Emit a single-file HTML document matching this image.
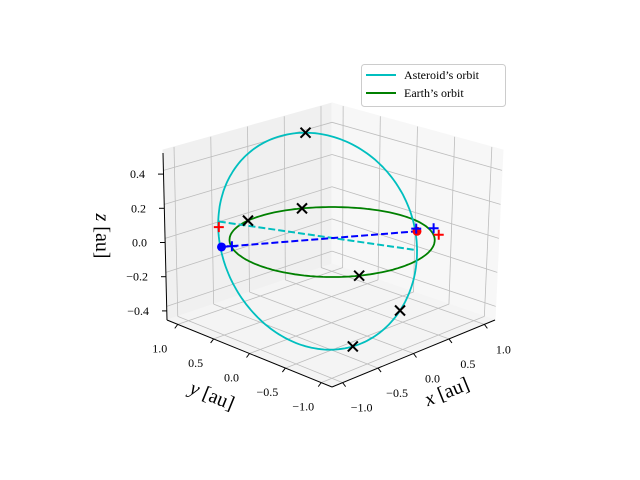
<!DOCTYPE html>
<html><head><meta charset="utf-8"><style>
html,body{margin:0;padding:0;background:#fff}
svg{display:block}
text{font-family:"Liberation Serif",serif;fill:#000}
</style></head><body>
<svg id="chart" width="640" height="480" viewBox="0 0 640 480" xmlns="http://www.w3.org/2000/svg">
<g id="panes"></g>
<g id="grid"></g>
<g id="axes"></g>
<g id="series"></g>
<text x="447" y="398" font-size="20" text-anchor="middle" transform="rotate(-22 447 392)"><tspan font-style="italic">x</tspan> [au]</text>
<text x="212" y="402" font-size="20" text-anchor="middle" transform="rotate(22 212 396)"><tspan font-style="italic">y</tspan> [au]</text>
<text x="102" y="242" font-size="20" text-anchor="middle" transform="rotate(90 102 236)"><tspan font-style="italic">z</tspan> [au]</text>
<g>
<rect x="361.5" y="64.5" width="144" height="42" rx="3" fill="#fff" fill-opacity="0.8" stroke="#ccc"/>
<line x1="366" y1="75" x2="396" y2="75" stroke="#00bfbf" stroke-width="2"/>
<text x="404" y="79" font-size="12">Asteroid’s orbit</text>
<line x1="366" y1="93" x2="396" y2="93" stroke="#008000" stroke-width="2"/>
<text x="404" y="97" font-size="12">Earth’s orbit</text>
</g>
</svg>
<script>
// axis limits
const xLim = [-1.15, 1.15];
const yLim = [-1.15, 1.15];
const zLim = [-0.48, 0.52];
const xTicks = [-1.0, -0.5, 0.0, 0.5, 1.0];
const yTicks = [-1.0, -0.5, 0.0, 0.5, 1.0];
const zTicks = [-0.4, -0.2, 0.0, 0.2, 0.4];
const xTickLabels = ["\u22121.0", "\u22120.5", "0.0", "0.5", "1.0"];
const yTickLabels = ["\u22121.0", "\u22120.5", "0.0", "0.5", "1.0"];
const zTickLabels = ["\u22120.4", "\u22120.2", "0.0", "0.2", "0.4"];
// Earth orbit: circle radius
const earthRadius = 1.0;
const earthMarkerAngles = [100, 62, 240];
// Asteroid orbit: center, axis vectors
const asteroidCenter = [-0.068, 0.128, -0.01];
const asteroidU = [0.68, -0.68, 0.0];
const asteroidV = [-0.088, 0.088, 0.638];
const asteroidMarkerParams = [90, -40, -76];
// points
const blueDot = [-0.905, 0.62, 0];
const redDot = [0.77, -0.40, 0];
const bluePlus = [[-0.816, 0.566, 0], [0.82, -0.34, 0], [0.94, -0.46, 0]];
const redPlus = [[-0.52, 1.04, 0], [0.84, -0.63, 0]];
const nodeLine = [[-0.405, 1.155, 0], [0.39, -0.79, 0]];

// projection: trilinear over box corners (pixel)
const C = {
  "000": [332, 387], "100": [495, 320], "010": [167, 320], "110": [332, 264],
  "001": [334, 207], "101": [503, 150], "011": [163, 150], "111": [332, 103]
};
function proj(x, y, z) {
  const fx = (x - xLim[0]) / (xLim[1] - xLim[0]);
  const fy = (y - yLim[0]) / (yLim[1] - yLim[0]);
  const fz = (z - zLim[0]) / (zLim[1] - zLim[0]);
  let px = 0, py = 0;
  for (const k in C) {
    const w = (k[0] === "1" ? fx : 1 - fx) * (k[1] === "1" ? fy : 1 - fy) * (k[2] === "1" ? fz : 1 - fz);
    px += w * C[k][0]; py += w * C[k][1];
  }
  return [px, py];
}
// z axis (front-left edge) tick mapping
function zAxisY(t) { return 242.5 - t * 171; }
function zAxisX(t) { return 165 - t * 5; }
const NS = "http://www.w3.org/2000/svg";
function mk(tag, attrs, parent) {
  const e = document.createElementNS(NS, tag);
  for (const a in attrs) e.setAttribute(a, attrs[a]);
  parent.appendChild(e);
  return e;
}
const panes = document.getElementById("panes");
const grid = document.getElementById("grid");
const axes = document.getElementById("axes");
const series = document.getElementById("series");
function poly(pts) { return pts.map(p => p[0].toFixed(1) + "," + p[1].toFixed(1)).join(" "); }
const [x0, x1] = xLim, [y0, y1] = yLim, [z0, z1] = zLim;
let p;
p = mk("polygon", {points: poly([proj(x0,y1,z0), proj(x1,y1,z0), proj(x1,y1,z1), proj(x0,y1,z1)]), fill: "#f0f0f0", stroke: "#f0f0f0"}, panes);


p = mk("polygon", {points: poly([proj(x1,y0,z0), proj(x1,y1,z0), proj(x1,y1,z1), proj(x1,y0,z1)]), fill: "#f7f7f7", stroke: "#f7f7f7"}, panes);


p = mk("polygon", {points: poly([proj(x0,y0,z0), proj(x1,y0,z0), proj(x1,y1,z0), proj(x0,y1,z0)]), fill: "#f4f4f4", stroke: "#f4f4f4"}, panes);



function gl(a, b, name) {
  const l = mk("line", {x1: a[0], y1: a[1], x2: b[0], y2: b[1], stroke: "#bdbdbd", "stroke-width": 0.8}, grid);
  
  
}
xTicks.forEach(t => { gl(proj(t,y0,z0), proj(t,y1,z0), "grid-x-floor"); gl(proj(t,y1,z0), proj(t,y1,z1), "grid-x-wall"); });
yTicks.forEach(t => { gl(proj(x0,t,z0), proj(x1,t,z0), "grid-y-floor"); gl(proj(x1,t,z0), proj(x1,t,z1), "grid-y-wall"); });
zTicks.forEach(t => { gl(proj(x0,y1,t), proj(x1,y1,t), "grid-z-left"); gl(proj(x1,y0,t), proj(x1,y1,t), "grid-z-right"); });

function al(a, b, name) {
  const l = mk("line", {x1: a[0], y1: a[1], x2: b[0], y2: b[1], stroke: "#000", "stroke-width": 1}, axes);
  
  
}
al(proj(x0,y0,z0), proj(x1,y0,z0), "x-axis-line");
al(proj(x0,y0,z0), proj(x0,y1,z0), "y-axis-line");
al([163,153], [167,320], "z-axis-line");
function tl(x, y, s, name) {
  const t = mk("text", {x: x, y: y, "font-size": 12, "text-anchor": "middle"}, axes);
  t.textContent = s;
  
  
}
xTicks.forEach((t, i) => {
  const a = proj(t, y0, z0);
  al(a, [a[0] + 3, a[1] + 4], "x-tick");
  tl(a[0] + 19, a[1] + 29, xTickLabels[i], "x-tick-label");
});
yTicks.forEach((t, i) => {
  const a = proj(x0, t, z0);
  al(a, [a[0] - 3, a[1] + 4], "y-tick");
  tl(a[0] - 18, a[1] + 28, yTickLabels[i], "y-tick-label");
});
zTicks.forEach((t, i) => {
  const a = [zAxisX(t), zAxisY(t)];
  al(a, [a[0] - 5, a[1]], "z-tick");
  const e = mk("text", {x: a[0] - 18, y: a[1] + 4, "font-size": 12, "text-anchor": "end"}, axes);
  e.textContent = zTickLabels[i];
  
  
});

// orbits
function path(pts) { return "M" + pts.map(q => q[0].toFixed(1) + " " + q[1].toFixed(1)).join(" L"); }
const earthPts = [], astPts = [];
for (let i = 0; i <= 200; i++) {
  const th = 2 * Math.PI * i / 200;
  earthPts.push(proj(earthRadius * Math.cos(th), earthRadius * Math.sin(th), 0));
  const c = Math.cos(th), s = Math.sin(th);
  astPts.push(proj(asteroidCenter[0] + asteroidU[0]*c + asteroidV[0]*s, asteroidCenter[1] + asteroidU[1]*c + asteroidV[1]*s, asteroidCenter[2] + asteroidU[2]*c + asteroidV[2]*s));
}
p = mk("path", {d: path(earthPts), fill: "none", stroke: "#008000", "stroke-width": 1.8}, series);


p = mk("path", {d: path(astPts), fill: "none", stroke: "#00bfbf", "stroke-width": 1.8}, series);



function dashed(a, b, color, name) {
  const A = proj(...a), B = proj(...b);
  const l = mk("line", {x1: A[0], y1: A[1], x2: B[0], y2: B[1], stroke: color, "stroke-width": 2, "stroke-dasharray": "7,3"}, series);
  
  
}
dashed(nodeLine[0], nodeLine[1], "#00bfbf", "node-line");
dashed(blueDot, redDot, "#0000ff", "connection-line");

function xMark(q, name) {
  const g = mk("path", {d: `M${q[0]-5} ${q[1]-5} L${q[0]+5} ${q[1]+5} M${q[0]-5} ${q[1]+5} L${q[0]+5} ${q[1]-5}`, stroke: "#000", "stroke-width": 2, fill: "none"}, series);
  
  
}
earthMarkerAngles.forEach(a => {
  const th = a * Math.PI / 180;
  xMark(proj(earthRadius * Math.cos(th), earthRadius * Math.sin(th), 0), "earth-marker");
});
asteroidMarkerParams.forEach(a => {
  const th = a * Math.PI / 180, c = Math.cos(th), s = Math.sin(th);
  xMark(proj(asteroidCenter[0] + asteroidU[0]*c + asteroidV[0]*s, asteroidCenter[1] + asteroidU[1]*c + asteroidV[1]*s, asteroidCenter[2] + asteroidU[2]*c + asteroidV[2]*s), "asteroid-marker");
});
function plus(pt, color, name) {
  const q = proj(...pt);
  const g = mk("path", {d: `M${q[0]-5} ${q[1]} L${q[0]+5} ${q[1]} M${q[0]} ${q[1]-5} L${q[0]} ${q[1]+5}`, stroke: color, "stroke-width": 2, fill: "none"}, series);
  
  
}
function dot(pt, color, name) {
  const q = proj(...pt);
  const c = mk("circle", {cx: q[0], cy: q[1], r: 4.5, fill: color}, series);
  
  
}
dot(blueDot, "#0000ff", "asteroid-position-dot");
dot(redDot, "#ff0000", "earth-position-dot");
bluePlus.forEach(pt => plus(pt, "#0000ff", "blue-plus-marker"));
redPlus.forEach(pt => plus(pt, "#ff0000", "red-plus-marker"));
</script>
</body></html>
